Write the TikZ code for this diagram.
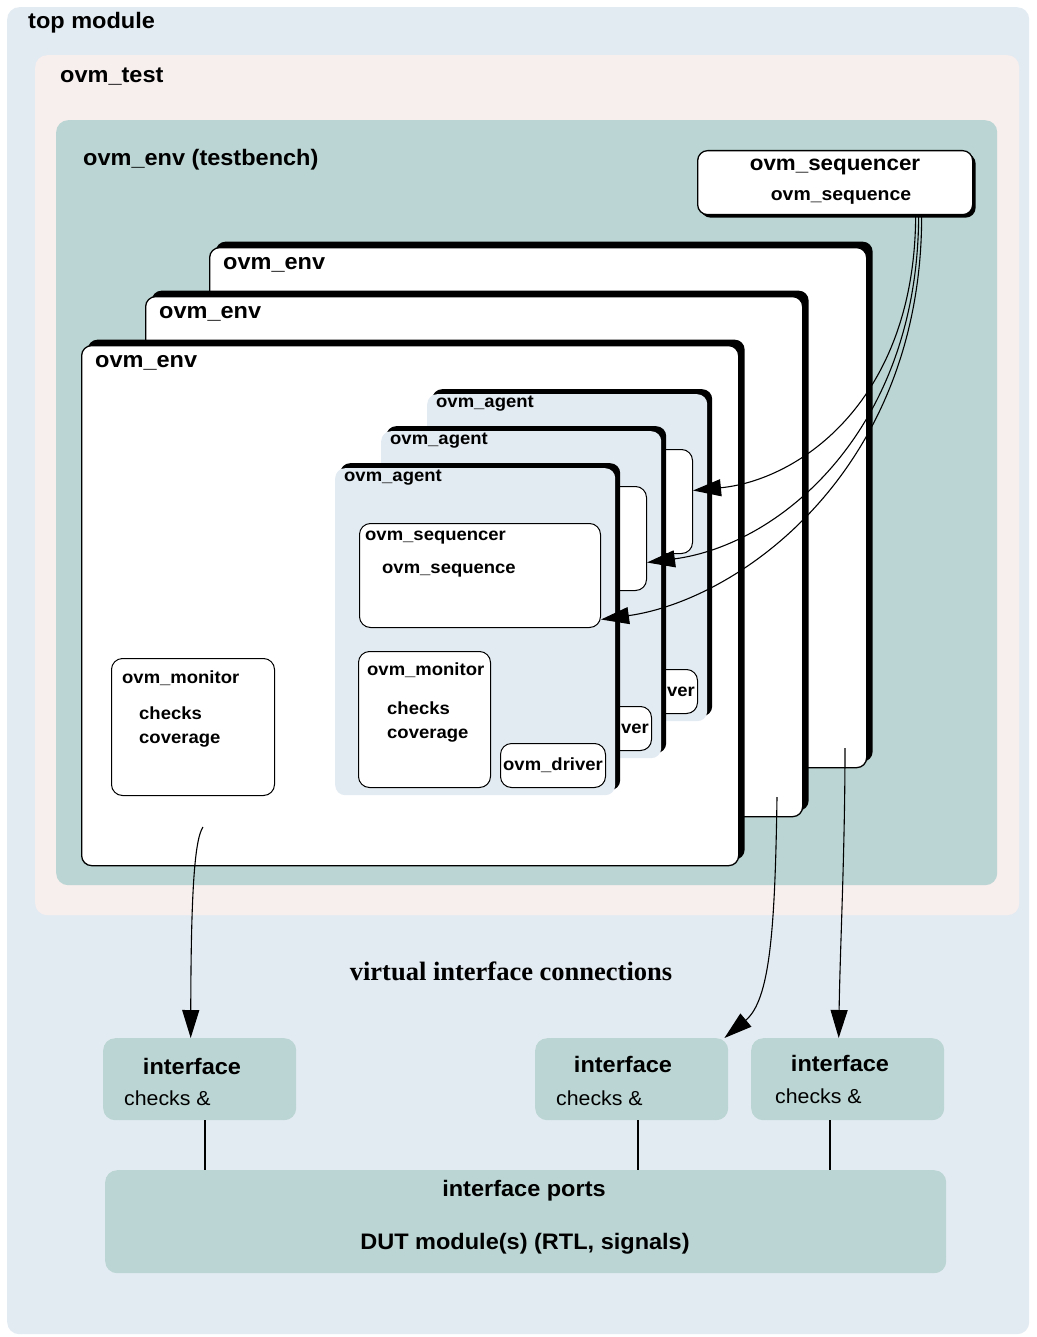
\documentclass[tikz,border=0pt]{standalone}
\usepackage{fontspec}
\setmainfont{Liberation Sans}[FakeStretch=1.05]
\newfontfamily\noteserif{Liberation Serif}
\usetikzlibrary{arrows.meta, positioning, shadows}
\definecolor{topblue}{HTML}{E3EBF2}
\definecolor{testpink}{HTML}{F7EEEE}
\definecolor{envteal}{HTML}{BAD5D3}
\tikzset{
  layer/.style = {anchor=north west, rounded corners=12pt, inner sep=0pt},
  envbox/.style = {layer, draw, line width=1.3pt, fill=white, rounded corners=10pt,
                   drop shadow={shadow xshift=6pt, shadow yshift=6pt,
                                fill=black, opacity=1}},
  agentbox/.style = {layer, fill=topblue, rounded corners=10pt,
                     drop shadow={shadow xshift=5pt, shadow yshift=5pt,
                                  fill=black, opacity=1}},
  inbox/.style = {layer, draw, line width=1pt, fill=white, rounded corners=11pt},
  iface/.style = {layer, fill=envteal, minimum width=193pt, minimum height=82pt},
  heading/.style = {anchor=west, inner sep=0pt,
                    font=\fontsize{22.4}{26}\selectfont\bfseries},
  subheading/.style = {anchor=west, inner sep=0pt,
                       font=\fontsize{17.6}{21}\selectfont\bfseries},
  bodytext/.style = {anchor=west, inner sep=0pt,
                     font=\fontsize{20.3}{24}\selectfont},
  link/.style = {line width=1.1pt, arrows={-Triangle[length=28pt, width=17pt]}},
  wire/.style = {line width=1.5pt},
}
\newcommand{\ovmenv}[3]{%
  %% Draw one ovm_env frame
  %% Arguments:
  %%    1. Name
  %%    2. x of the top left corner
  %%    3. y of the top left corner
  \node [envbox, minimum width=657pt, minimum height=520pt] (#1) at (#2, #3) {};
  \node [heading] at ([xshift=14pt, yshift=-18pt]#1.north west) {ovm\_env};
}
\newcommand{\ovmagent}[4]{%
  %% Draw one ovm_agent with its sequencer, monitor and driver
  %% Arguments:
  %%    1. Name prefix
  %%    2. x of the top left corner
  %%    3. y of the top left corner
  %%    4. 1 to write the labels that only the front agent shows
  \begin{scope}[shift={(#2, #3)}]
    \node [agentbox, minimum width=280pt, minimum height=327pt] (#1) at (0, 0) {};
    \node [subheading] at (9, 10) {ovm\_agent};

    %% Sequencer holding the sequence
    \node [inbox, minimum width=241pt, minimum height=104pt] (#1_seq) at (24, 55) {};

    %% Monitor and driver
    \node [inbox, minimum width=132pt, minimum height=136pt] (#1_mon) at (23, 183) {};
    \node [inbox, minimum width=105pt, minimum height=44pt] (#1_drv) at (165, 275) {};
    \node [subheading, anchor=center] at (#1_drv) {ovm\_driver};

    \ifnum#4=1
      \node [subheading] at (30, 70) {ovm\_sequencer};
      \node [subheading] at (47, 103) {ovm\_sequence};
      \node [subheading] at (32, 202) {ovm\_monitor};
      \node [subheading] at (52, 240) {checks};
      \node [subheading] at (52, 268) {coverage};
    \fi
  \end{scope}
}

\begin{document}
\begin{tikzpicture}[x=1pt, y=-1pt]
  \useasboundingbox (0, 0) rectangle (1036, 1337);

  %% Nested containers
  \node [layer, fill=topblue, minimum width=1022pt, minimum height=1327pt] (top) at (7, 7) {};
  \node [heading] at (28, 23) {top module};
  \node [layer, fill=testpink, minimum width=984pt, minimum height=860pt] (test) at (35, 55) {};
  \node [heading] at (60, 77) {ovm\_test};
  \node [layer, fill=envteal, minimum width=941pt, minimum height=765pt] (tb) at (56, 120) {};
  \node [heading] at (83, 160) {ovm\_env (testbench)};

  %% Top level sequencer
  \node [inbox, line width=1.3pt, rounded corners=10pt, minimum width=275pt, minimum height=64pt,
         drop shadow={shadow xshift=3pt, shadow yshift=-3pt, fill=black, opacity=1}]
        (topseq) at (697, 150) {};
  \node [heading, anchor=center, font=\fontsize{21.3}{25}\selectfont\bfseries] at (835, 167) {ovm\_sequencer};
  \node [heading, anchor=center, font=\fontsize{18.5}{22}\selectfont\bfseries] at (841, 197) {ovm\_sequence};

  %% Stack of environments, back to front
  \ovmenv{env3}{209}{247}
  \ovmenv{env2}{145}{296}
  \ovmenv{env1}{81}{345}

  %% Monitor of the front environment
  \node [inbox, minimum width=163pt, minimum height=137pt] (mon) at (111, 658) {};
  \node [subheading] at (122, 678) {ovm\_monitor};
  \node [subheading] at (139, 713) {checks};
  \node [subheading] at (139, 741) {coverage};

  %% Stack of agents, back to front
  \ovmagent{agC}{427}{394}{0}
  \ovmagent{agB}{381}{431}{0}
  \ovmagent{agA}{335}{468}{1}

  %% Sequencer links
  \draw [link] ([xshift=80.5pt]topseq.south) .. controls (915, 400) and (800, 480)
    .. ([yshift=11pt]agC_seq.east);
  \draw [link] ([xshift=83.5pt]topseq.south) .. controls (918, 430) and (780, 545)
    .. ([yshift=-24pt]agB_seq.east);
  \draw [link] ([xshift=86.5pt]topseq.south) .. controls (922, 470) and (740, 600)
    .. ([yshift=-44pt]agA_seq.east);

  %% Interfaces and the DUT
  \node [iface] (if1) at (103, 1038) {};
  \node [iface] (if2) at (535, 1038) {};
  \node [iface] (if3) at (751, 1038) {};
  \foreach \n/\hx/\hy/\cx/\cy in {if1/192/1066/124/1098, if2/623/1064/556/1098,
                                  if3/840/1063/775/1096}{%
    \node [heading, anchor=center] at (\hx, \hy) {interface};
    \node [bodytext] at (\cx, \cy) {checks \&};
  }
  \node [layer, fill=envteal, minimum width=841pt, minimum height=103pt] (dut) at (105, 1170) {};
  \node [heading, anchor=center] at (524, 1191) {interface ports};
  \node [heading, anchor=center] at (525, 1244) {DUT module(s) (RTL, signals)};

  \draw [wire] ([xshift=5.5pt]if1.south) -- ([xshift=5.5pt]if1.south |- dut.north);
  \draw [wire] ([xshift=6.5pt]if2.south) -- ([xshift=6.5pt]if2.south |- dut.north);
  \draw [wire] ([xshift=-17.5pt]if3.south) -- ([xshift=-17.5pt]if3.south |- dut.north);

  %% Virtual interface connections
  \coordinate (env1_out) at (203, 827);
  \coordinate (env2_out) at (777, 797);
  \coordinate (env3_out) at (845, 748);
  \draw [link] (env1_out) .. controls (194, 840) and (191, 900) .. ([xshift=-9pt]if1.north);
  \draw [link] (env2_out) .. controls (775, 930) and (770, 1000) .. ([xshift=-4pt]if2.north east);
  \draw [link] (env3_out) .. controls (845, 850) and (840, 950) .. ([xshift=-9pt]if3.north);
  \node [font=\noteserif\fontsize{26.5}{31}\selectfont\bfseries] (vic) at (511, 971)
        {virtual interface connections};
\end{tikzpicture}
\end{document}
